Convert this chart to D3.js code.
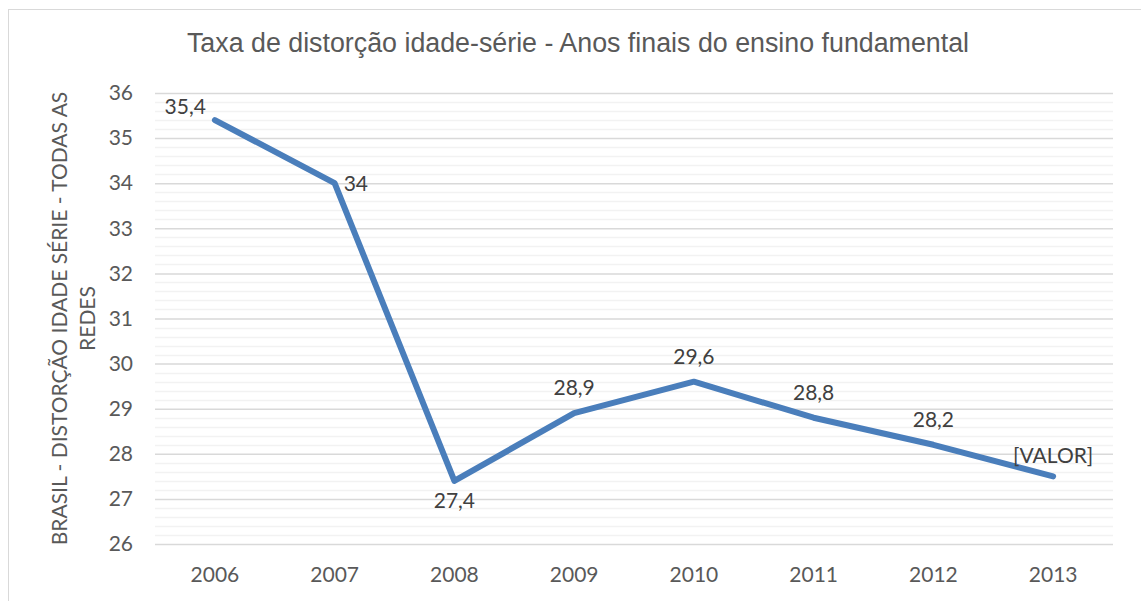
<!DOCTYPE html>
<html><head><meta charset="utf-8">
<script src="https://cdn.jsdelivr.net/npm/d3@7"></script>
<style>body{margin:0;background:#fff}svg{display:block}</style>
</head><body>
<script>
const categories = ["2006","2007","2008","2009","2010","2011","2012","2013"];
const values = [35.4, 34, 27.4, 28.9, 29.6, 28.8, 28.2, 27.5];
const labels = ["35,4","34","27,4","28,9","29,6","28,8","28,2","[VALOR]"];
const yTicks = [26,27,28,29,30,31,32,33,34,35,36];
const title = "Taxa de distorção idade-série - Anos finais do ensino fundamental";
const yTitle = ["BRASIL - DISTORÇÃO IDADE SÉRIE - TODAS AS", "REDES"];

(function () {
const W = 1141, H = 601;
const FONT = "Lato, 'Open Sans', sans-serif";
const svg = d3.select("body").append("svg").attr("width", W).attr("height", H);
svg.append("rect").attr("x", 8.5).attr("y", 9.5).attr("width", W + 10).attr("height", H + 10)
  .attr("fill", "#fff").attr("stroke", "#d9d9d9").attr("stroke-width", 1);

const pL = 155, pR = 1113, pT = 93, pB = 544;
const x = d3.scaleBand().domain(categories).range([pL, pR]);
const y = d3.scaleLinear().domain([26, 36]).range([pB, pT]);

const minor = d3.range(26, 36.001, 0.2).filter(v => Math.abs(v - Math.round(v)) > 1e-6);
svg.append("g").selectAll("line").data(minor).join("line")
  .attr("x1", pL).attr("x2", pR)
  .attr("y1", d => Math.round(y(d)) + 0.5).attr("y2", d => Math.round(y(d)) + 0.5)
  .attr("stroke", "#f2f2f2").attr("stroke-width", 1.5);

const yAxis = svg.append("g").attr("transform", `translate(${pL},0)`)
  .call(d3.axisLeft(y).tickValues(yTicks).tickSize(-(pR - pL)).tickFormat(d3.format("d")).tickPadding(22));
yAxis.select(".domain").remove();
yAxis.selectAll(".tick line").attr("stroke", "#d9d9d9").attr("stroke-width", 1.5);
yAxis.selectAll("text").attr("fill", "#595959").style("font-family", FONT).style("font-size", "21px");

const xAxis = svg.append("g").attr("transform", `translate(0,${pB})`)
  .call(d3.axisBottom(x).tickSize(0).tickPadding(23));
xAxis.select(".domain").remove();
xAxis.selectAll("text").attr("fill", "#595959").style("font-family", FONT).style("font-size", "21px");

const line = d3.line().x((d, i) => x(categories[i]) + x.bandwidth() / 2).y(d => y(d));
svg.append("path").datum(values).attr("d", line).attr("fill", "none")
  .attr("stroke", "#4a7ebb").attr("stroke-width", 6).attr("stroke-linejoin", "round").attr("stroke-linecap", "round");

const placement = ["left","right","below","above","above","above","above","above2"];
svg.append("g").selectAll("text").data(values).join("text")
  .attr("x", (d, i) => {
    const cx = x(categories[i]) + x.bandwidth() / 2;
    if (placement[i] === "left") return cx - 9;
    if (placement[i] === "right") return cx + 9;
    return cx;
  })
  .attr("y", (d, i) => {
    const cy = y(d);
    if (placement[i] === "left") return cy - 6;
    if (placement[i] === "right") return cy + 8;
    if (placement[i] === "below") return cy + 27;
    if (placement[i] === "above2") return cy - 13;
    return cy - 18;
  })
  .attr("text-anchor", (d, i) => placement[i] === "left" ? "end" : placement[i] === "right" ? "start" : "middle")
  .attr("fill", "#404040").style("font-family", FONT).style("font-size", "21px")
  .text((d, i) => labels[i]);

svg.append("text").attr("x", 578).attr("y", 52).attr("text-anchor", "middle")
  .attr("fill", "#595959").style("font-family", "'Liberation Sans', Arial, sans-serif").style("font-size", "26.8px")
  .text(title);

const yt = svg.append("text").attr("transform", `translate(60,${(pT + pB) / 2}) rotate(-90)`)
  .attr("text-anchor", "middle").attr("fill", "#595959")
  .style("font-family", FONT).style("font-size", "21px");
yt.append("tspan").attr("x", 0).attr("dy", 7).text(yTitle[0]);
yt.append("tspan").attr("x", 0).attr("dy", 28).text(yTitle[1]);
})();
</script>
</body></html>
